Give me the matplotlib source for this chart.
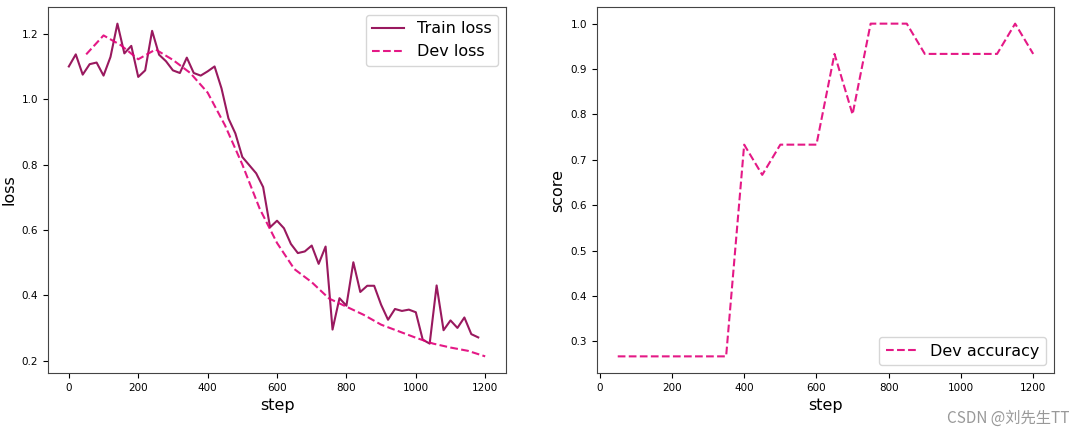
import matplotlib.pyplot as plt
import numpy as np

# training loss, logged every 20 steps
train_steps = np.arange(0, 1200, 20)
train_loss = [1.10, 1.137, 1.075, 1.107, 1.112, 1.072, 1.129, 1.231, 1.14, 1.163,
              1.068, 1.088, 1.209, 1.136, 1.116, 1.088, 1.08, 1.127, 1.08, 1.072,
              1.085, 1.10, 1.033, 0.941, 0.895, 0.823, 0.798, 0.773, 0.731, 0.608,
              0.628, 0.605, 0.557, 0.529, 0.534, 0.552, 0.496, 0.549, 0.295, 0.391,
              0.368, 0.501, 0.41, 0.429, 0.429, 0.371, 0.325, 0.358, 0.352, 0.356,
              0.348, 0.264, 0.252, 0.43, 0.293, 0.323, 0.30, 0.332, 0.281, 0.271]

# dev evaluation every 50 steps
dev_steps = np.arange(50, 1250, 50)
dev_loss = [1.137, 1.195, 1.165, 1.122, 1.152, 1.12, 1.08, 1.02, 0.92, 0.80,
            0.665, 0.56, 0.48, 0.44, 0.39, 0.365, 0.34, 0.31, 0.29, 0.27,
            0.252, 0.24, 0.23, 0.213]
dev_acc = [0.2667, 0.2667, 0.2667, 0.2667, 0.2667, 0.2667, 0.2667, 0.7333,
           0.6667, 0.7333, 0.7333, 0.7333, 0.9333, 0.8, 1.0, 1.0, 1.0, 0.9333,
           0.9333, 0.9333, 0.9333, 0.9333, 1.0, 0.9333]

fig = plt.figure(figsize=(10.84, 4.38), dpi=100)
ax1 = fig.add_axes([0.0443, 0.1484, 0.4225, 0.8356])
ax2 = fig.add_axes([0.5507, 0.1484, 0.4216, 0.8356])

# left: losses
ax1.plot(train_steps, train_loss, color='#8E004D', linewidth=1.5, alpha=0.9, label="Train loss")
ax1.plot(dev_steps, dev_loss, color='#E20079', linestyle='--', linewidth=1.5, alpha=0.9, label="Dev loss")
ax1.set_ylabel("loss", fontsize=11.5)
ax1.set_xlabel("step", fontsize=11.5)
ax1.legend(loc='upper right', fontsize=11.5)

# right: accuracy
ax2.plot(dev_steps, dev_acc, color='#E20079', linestyle='--', linewidth=1.5, alpha=0.9, label="Dev accuracy")
ax2.set_ylabel("score", fontsize=11.5)
ax2.set_xlabel("step", fontsize=11.5)
ax2.legend(loc='lower right', fontsize=11.5)

for ax in (ax1, ax2):
    ax.tick_params(labelsize=7.5)
    for s in ax.spines.values():
        s.set_color('#444444')

fig.text(0.987, 0.025, "CSDN @刘先生TT", ha='right', va='bottom', fontsize=11,
         color='#999999', family=['Noto Sans CJK SC', 'DejaVu Sans'])

fig.savefig("out.png", dpi=100)
